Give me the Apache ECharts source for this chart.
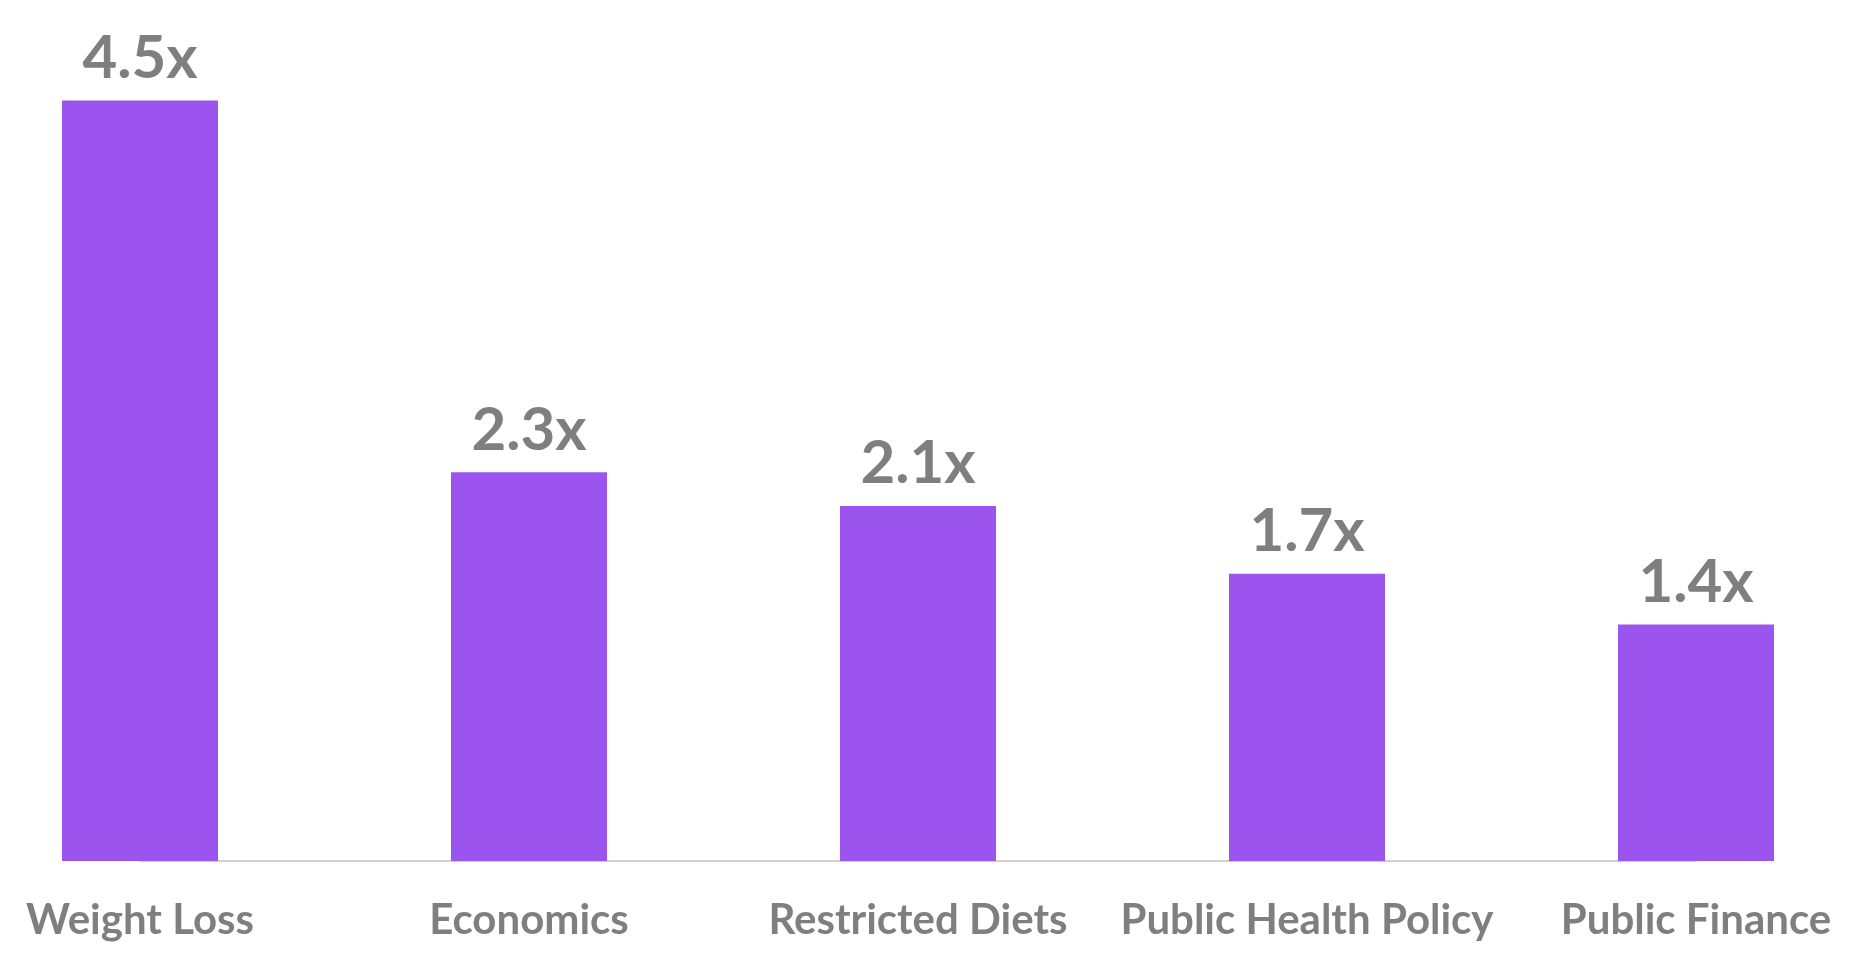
<!DOCTYPE html>
<html>
<head>
<meta charset="utf-8">
<script src="https://cdn.jsdelivr.net/npm/echarts@6/dist/echarts.min.js"></script>
<style>html,body{margin:0;padding:0;background:#fff}#main{width:1850px;height:974px}</style>
</head>
<body>
<div id="main"></div>
<script>
var categories = ['Weight Loss', 'Economics', 'Restricted Diets', 'Public Health Policy', 'Public Finance'];
var values = [4.5, 2.3, 2.1, 1.7, 1.4];

var myChart = echarts.init(document.getElementById('main'));
var option = {
    animation: false,
    grid: { left: 140, right: 154, top: 16, bottom: 113, containLabel: false },
    xAxis: {
        type: 'category',
        data: categories,
        boundaryGap: false,
        axisTick: { show: false },
        axisLine: { lineStyle: { color: '#d0d0d0', width: 2 } },
        axisLabel: {
            interval: 0,
            color: '#7f7f7f', fontWeight: 'bold', fontSize: 42,
            fontFamily: 'Lato, "Open Sans", sans-serif', margin: 38
        }
    },
    yAxis: { type: 'value', min: 0, max: 5, show: false, splitLine: { show: false } },
    series: [{
        type: 'bar',
        data: values,
        barWidth: 156,
        itemStyle: { color: '#9c54ee' },
        label: {
            show: true, position: 'top', distance: 12,
            formatter: function (p) { return p.value.toFixed(1) + 'x'; },
            color: '#7f7f7f', fontWeight: 'bold', fontSize: 60,
            fontFamily: 'Lato, "Open Sans", sans-serif'
        }
    }]
};
myChart.setOption(option);
window.addEventListener('resize', function () { myChart.resize(); });
</script>
</body>
</html>
